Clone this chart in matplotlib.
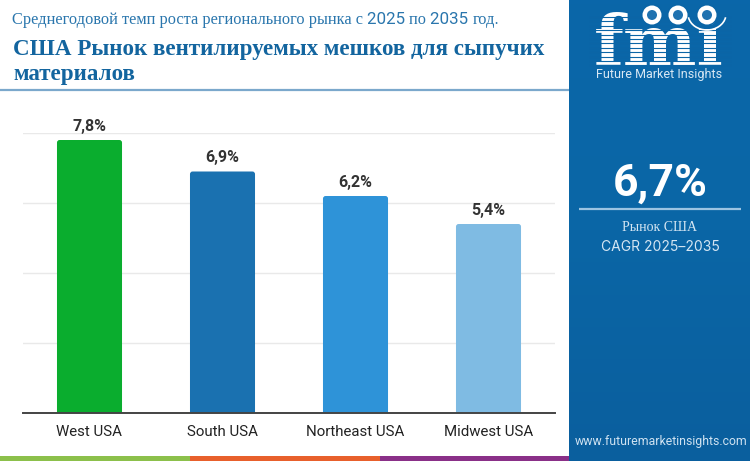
import numpy as np
import matplotlib
matplotlib.use('Agg')
import matplotlib.pyplot as plt
from matplotlib.patches import FancyBboxPatch, Rectangle, Circle, Arc

regions = ['West USA', 'South USA', 'Northeast USA', 'Midwest USA']
cagr = [7.8, 6.9, 6.2, 5.4]
bar_colors = ['#0aad2e', '#1a71b0', '#2e93d8', '#7fbbe3']
value_labels = ['7,8%', '6,9%', '6,2%', '5,4%']
y_ticks = [0, 2, 4, 6, 8]

W, H = 750, 461
BLUE = '#0b65a6'
TITLE = '#13659f'

fig = plt.figure(figsize=(W / 100, H / 100), dpi=100)

# overlay in pixel coords for everything that isnt the chart
bg = fig.add_axes([0, 0, 1, 1])
bg.set_xlim(0, W)
bg.set_ylim(H, 0)
bg.axis('off')

# right panel
grad = np.linspace(0, 1, 100).reshape(-1, 1)
cmap = matplotlib.colors.LinearSegmentedColormap.from_list('p', ['#0a66a9', '#0a66a6', '#0a5f9e'])
bg.imshow(grad, extent=[569, W, H, 0], cmap=cmap, aspect='auto', zorder=1)
bg.set_xlim(0, W)
bg.set_ylim(H, 0)

# bottom stripes
bg.add_patch(Rectangle((0, 456), 190, 5, color='#8cc04b', lw=0))
bg.add_patch(Rectangle((190, 456), 190, 5, color='#e8602c', lw=0))
bg.add_patch(Rectangle((380, 456), 189, 5, color='#8a3088', lw=0))

# header rule
bg.plot([0, 569], [90, 90], color='#7ba8cc', lw=1.6, solid_capstyle='butt')


def run_text(x, y, parts):
    # text pieces one after another, the subtitle mixes serif and sans digits
    r = fig.canvas.get_renderer()
    for s, fam, size in parts:
        t = bg.text(x, y, s, family=fam, fontsize=size, color='#2a76ad', va='baseline', ha='left')
        x += t.get_window_extent(r).width


SERIF = 'Liberation Serif'
run_text(12, 24, [('Среднегодовой темп роста регионального рынка с ', SERIF, 11.8),
                  ('2025 ', 'Roboto', 12.2), ('по ', SERIF, 11.8),
                  ('2035 ', 'Roboto', 12.2), ('год.', SERIF, 11.8)])
bg.text(13, 55, 'США Рынок вентилируемых мешков для сыпучих', family=SERIF,
        fontweight='bold', fontsize=16.6, color=TITLE, va='baseline')
bg.text(13, 80, 'материалов', family=SERIF,
        fontweight='bold', fontsize=16.6, color=TITLE, va='baseline')

# chart
ax = fig.add_axes([23 / W, 1 - 413 / H, 532 / W, 280 / H])
ax.patch.set_alpha(0)
x = np.arange(len(regions))
bars = ax.bar(x, cagr, width=0.489, color=bar_colors, zorder=3)
ax.set_xlim(-0.5, 3.5)
ax.set_ylim(0, 8)
for rect, c in zip(bars, bar_colors):
    # swap the flat bar for one with rounded top corners
    rect.set_visible(False)
    p = FancyBboxPatch((rect.get_x(), -1), rect.get_width(), rect.get_height() + 1,
                       boxstyle='round,pad=0,rounding_size=0.02', mutation_aspect=133 / 35,
                       fc=c, ec='none', zorder=3)
    ax.add_patch(p)
for xi, v, lab in zip(x, cagr, value_labels):
    ax.annotate(lab, (xi, v), xytext=(0, 4.5), textcoords='offset points', ha='center', va='bottom',
                family='Roboto', fontweight='bold', fontsize=11.5, color='#333333', annotation_clip=False)
ax.set_yticks(y_ticks)
ax.set_xticks(x, regions, family='Roboto', fontsize=10.8, color='#222222')
ax.tick_params(axis='y', left=False, labelleft=False)
ax.tick_params(axis='x', bottom=False, pad=5)
ax.grid(axis='y', color='#e9e9e9', lw=1, zorder=0)
for s in ['top', 'right', 'left']:
    ax.spines[s].set_visible(False)
ax.spines['bottom'].set_color('#444444')
ax.spines['bottom'].set_linewidth(1.4)
ax.spines['bottom'].set_zorder(5)

# logo, stripes laid across the letters
over = fig.add_axes([0, 0, 1, 1])
over.set_xlim(0, W)
over.set_ylim(H, 0)
over.axis('off')
over.text(659, 65, 'fmi', family='DejaVu Serif', fontweight='bold', fontsize=50, color='white',
          ha='center', va='baseline', zorder=2)
for yy in np.arange(17, 67, 4.4):
    over.plot([590, 730], [yy, yy], color=BLUE, lw=0.8, zorder=3)
for cx, cy in [(652, 15), (678, 15), (707, 15)]:
    over.add_patch(Circle((cx, cy), 11, fc=BLUE, ec='none', zorder=4))
    over.add_patch(Circle((cx, cy), 9.5, fc='white', ec='none', zorder=4))
    over.add_patch(Circle((cx, cy), 5, fc='#1f72b0', ec='none', zorder=5))
over.add_patch(Arc((707, 14), 38, 32, theta1=10, theta2=170, color='white', lw=1.2, zorder=4))
over.text(659, 78, 'Future Market Insights', family='Roboto', fontsize=9, color='#d8e8f4',
          ha='center', va='baseline', zorder=4)

# cagr block
over.text(660, 184, '6,7%', family='Roboto', fontweight='bold', fontsize=32, color='white',
          ha='center', va='center')
over.plot([579, 741], [209, 209], color='#9cc4e2', lw=1.6, solid_capstyle='butt')
over.text(660, 227, 'Рынок США', family=SERIF, fontsize=10, color='#d5e6f3',
          ha='center', va='center')
over.text(660, 247, 'CAGR 2025–2035', family='Inter', fontsize=10, color='#d5e6f3',
          ha='center', va='center')
over.text(661, 441, 'www.futuremarketinsights.com', family='Roboto', fontsize=8.8, color='#cfe2f1',
          ha='center', va='center')

fig.savefig('out.png', dpi=100)
